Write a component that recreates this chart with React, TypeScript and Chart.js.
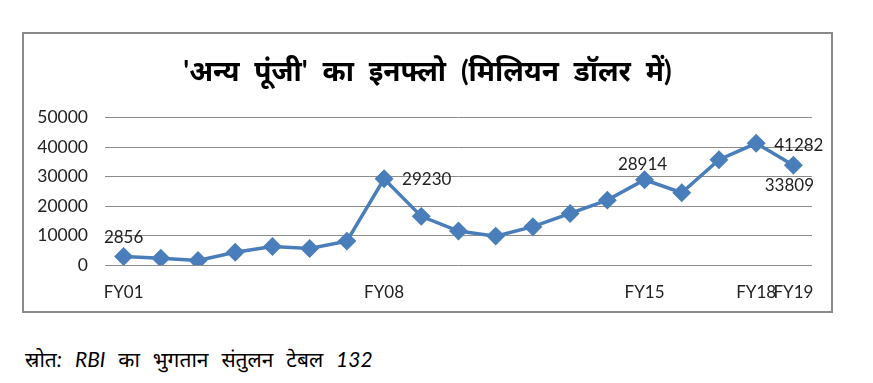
import React, { useEffect, useRef } from "react";
import { Chart, registerables } from "chart.js";

Chart.register(...registerables);

const categories = [
  "FY01", "FY02", "FY03", "FY04", "FY05", "FY06", "FY07", "FY08", "FY09", "FY10",
  "FY11", "FY12", "FY13", "FY14", "FY15", "FY16", "FY17", "FY18", "FY19",
];
const otherCapital = [
  2856, 2300, 1500, 4300, 6300, 5600, 8100, 29230, 16500, 11500,
  9800, 13000, 17500, 22000, 28914, 24500, 35700, 41282, 33809,
];
const shownTicks = ["FY01", "FY08", "FY15", "FY18", "FY19"];
const labelledPoints = ["FY01", "FY08", "FY15", "FY18", "FY19"];
const yTicks = [0, 10000, 20000, 30000, 40000, 50000];

const titleText = "'अन्य पूंजी' का इनफ्लो (मिलियन डॉलर में)";
const sourceText = "स्रोत: RBI का भुगतान संतुलन टेबल 132";

const FONT = "Lato, 'Noto Sans', sans-serif";

const placement: Record<string, [string, number, number]> = {
  FY01: ["center", 0, -19],
  FY08: ["left", 18, 1],
  FY15: ["center", -2, -15],
  FY18: ["left", 18, 2],
  FY19: ["center", -4, 20],
};

const spacingPlugin = {
  id: "titleSpacing",
  beforeDraw(chart: any) {
    chart.ctx.wordSpacing = "8px";
  },
  beforeDatasetsDraw(chart: any) {
    chart.ctx.wordSpacing = "0px";
  },
};

const labelPlugin = {
  id: "pointLabels",
  afterDatasetsDraw(chart: any) {
    const ctx = chart.ctx;
    const meta = chart.getDatasetMeta(0);
    ctx.save();
    ctx.font = `17px ${FONT}`;
    ctx.fillStyle = "#222";
    ctx.textBaseline = "middle";
    labelledPoints.forEach((cat) => {
      const i = categories.indexOf(cat);
      const pt = meta.data[i];
      const txt = String(otherCapital[i]);
      const [align, dx, dy] = placement[cat];
      ctx.textAlign = align;
      ctx.fillText(txt, pt.x + dx, pt.y + dy);
    });
    ctx.restore();
  },
};

export default function App() {
  const ref = useRef<HTMLCanvasElement | null>(null);

  useEffect(() => {
    if (!ref.current) return;
    const chart = new Chart(ref.current, {
      type: "line",
      data: {
        labels: categories,
        datasets: [
          {
            data: otherCapital,
            borderColor: "#4A7EBB",
            backgroundColor: "#4A7EBB",
            borderWidth: 3.5,
            pointStyle: "rectRot",
            pointRadius: 7,
            pointHoverRadius: 7,
            tension: 0,
          },
        ],
      },
      options: {
        animation: false,
        responsive: false,
        maintainAspectRatio: false,
        layout: { padding: 0 },
        plugins: {
          legend: { display: false },
          tooltip: { enabled: false },
          title: {
            display: true,
            text: titleText,
            color: "#000",
            font: { family: FONT, size: 28, weight: "bold", lineHeight: 1.2 },
            padding: { top: 23, bottom: 29 },
          },
        },
        scales: {
          x: {
            offset: true,
            grid: { display: false, drawTicks: false },
            border: { display: false },
            ticks: {
              autoSkip: false,
              maxRotation: 0,
              padding: 17,
              color: "#222",
              font: { family: FONT, size: 17 },
              callback: (_v: any, i: number) =>
                shownTicks.includes(categories[i]) ? categories[i] : "",
            },
            afterFit: (s: any) => {
              s.height = 48;
            },
          },
          y: {
            min: 0,
            max: 50000,
            grid: { color: "#8C8C8C", lineWidth: 1, drawTicks: false },
            border: { display: false },
            afterBuildTicks: (s: any) => {
              s.ticks = yTicks.map((v) => ({ value: v }));
            },
            ticks: {
              padding: 17,
              color: "#222",
              font: { family: FONT, size: 17.5 },
              callback: (v: any) => String(v),
            },
            afterFit: (s: any) => {
              s.width = 83;
            },
          },
          yRight: {
            position: "right",
            grid: { display: false, drawTicks: false },
            border: { display: false },
            ticks: { display: false },
            afterFit: (s: any) => {
              s.width = 21;
            },
          },
        },
      },
      plugins: [spacingPlugin, labelPlugin],
    });
    return () => chart.destroy();
  }, []);

  return (
    <div style={{ position: "absolute", left: 0, top: 0, width: 873, height: 383, background: "#fff" }}>
      <canvas
        ref={ref}
        width={811}
        height={281}
        style={{ position: "absolute", left: 22, top: 32, width: 811, height: 281 }}
      />
      <div
        style={{
          position: "absolute",
          left: 22,
          top: 32,
          width: 811,
          height: 281,
          boxSizing: "border-box",
          border: "2px solid #8A8A8A",
          pointerEvents: "none",
        }}
      />
      <div
        style={{
          position: "absolute",
          left: 25,
          top: 344,
          fontFamily: FONT,
          fontStyle: "italic",
          fontSize: 21,
          wordSpacing: 8,
          color: "#000",
          whiteSpace: "nowrap",
          lineHeight: "30px",
        }}
      >
        {sourceText}
      </div>
    </div>
  );
}
